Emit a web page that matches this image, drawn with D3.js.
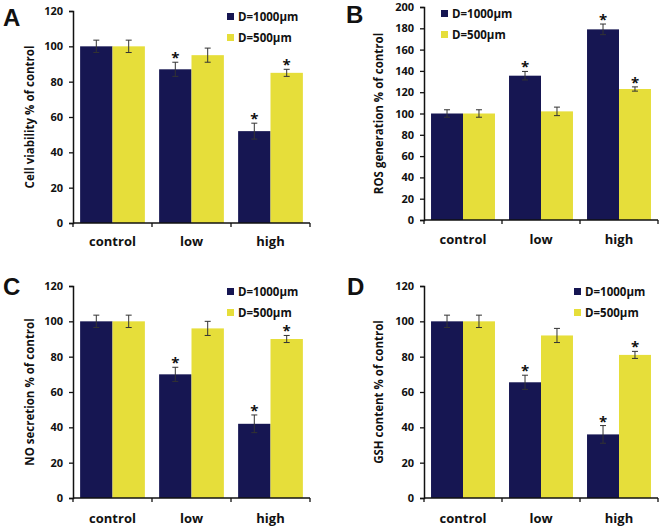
<!DOCTYPE html>
<html><head><meta charset="utf-8">
<script src="https://cdn.jsdelivr.net/npm/d3@7"></script>
<style>
body{margin:0;background:#fff;}
text{font-family:"Open Sans","Lato",sans-serif;font-weight:bold;fill:#111;}
</style></head><body>
<svg id="c" width="661" height="527"></svg>
<script>
const categories = ["control", "low", "high"];
const seriesNames = ["D=1000\u03bcm", "D=500\u03bcm"];
const colors = ["#161652", "#e6de3a"];

const viabilityD1000 = [100, 87, 52];
const viabilityD500 = [100, 95, 85];
const viabilityErr1000 = [3.5, 4, 4.5];
const viabilityErr500 = [3.5, 4, 2];

const rosD1000 = [100, 135.5, 179];
const rosD500 = [100, 102, 123];
const rosErr1000 = [3.5, 4, 5];
const rosErr500 = [3.5, 4, 2];

const noD1000 = [100, 70, 42];
const noD500 = [100, 96, 90];
const noErr1000 = [3.5, 4, 5];
const noErr500 = [3.5, 4, 2];

const gshD1000 = [100, 65.5, 36];
const gshD500 = [100, 92, 81];
const gshErr1000 = [3.5, 4, 5];
const gshErr500 = [3.5, 4, 2];

const sig1000 = [false, true, true];
const sigA500 = [false, false, true];
const sigB500 = [false, false, true];

const yTicksA = [0, 20, 40, 60, 80, 100, 120];
const yTicksB = [0, 20, 40, 60, 80, 100, 120, 140, 160, 180, 200];

const panels = [
  {letter:"A", lx:3, ly:26, ylabel:"Cell viability % of control", x0:73, x1:310, yTop:11, yBot:223, ymax:120, ticks:yTicksA,
   v:[viabilityD1000, viabilityD500], e:[viabilityErr1000, viabilityErr500], sig:[sig1000, sigA500],
   labX:34, legX:227, legY:17, xlabY:246},
  {letter:"B", lx:346, ly:23, ylabel:"ROS generation % of control", x0:424, x1:658, yTop:7, yBot:220, ymax:200, ticks:yTicksB,
   v:[rosD1000, rosD500], e:[rosErr1000, rosErr500], sig:[sig1000, sigB500],
   labX:383, legX:441, legY:14, xlabY:244},
  {letter:"C", lx:3, ly:295, ylabel:"NO secretion % of control", x0:73, x1:310, yTop:286, yBot:498, ymax:120, ticks:yTicksA,
   v:[noD1000, noD500], e:[noErr1000, noErr500], sig:[sig1000, sigA500],
   labX:34, legX:227, legY:292, xlabY:523},
  {letter:"D", lx:347, ly:295, ylabel:"GSH content % of control", x0:424, x1:658, yTop:286, yBot:498, ymax:120, ticks:yTicksA,
   v:[gshD1000, gshD500], e:[gshErr1000, gshErr500], sig:[sig1000, sigA500],
   labX:383, legX:574, legY:292, xlabY:523}
];

const svg = d3.select("#c");

panels.forEach(p => {
  const g = svg.append("g");
  const x = d3.scaleBand().domain(categories).range([p.x0, p.x1]).paddingInner(0).paddingOuter(0);
  const xs = d3.scaleBand().domain([0,1]).range([0, x.bandwidth()]).paddingInner(0).paddingOuter(0.22);
  const y = d3.scaleLinear().domain([0, p.ymax]).range([p.yBot, p.yTop]);

  // y axis
  const ya = g.append("g").attr("transform", `translate(${p.x0},0)`)
    .call(d3.axisLeft(y).tickValues(p.ticks).tickSize(4).tickPadding(6));
  ya.select(".domain").attr("stroke", "#111").attr("stroke-width", 1.5);
  ya.selectAll(".tick line").attr("stroke", "#111").attr("stroke-width", 1.3);
  ya.selectAll("text").style("font-size", "11px").attr("fill", "#111");

  // bars
  categories.forEach((c, ci) => {
    [0,1].forEach(si => {
      const val = p.v[si][ci], err = p.e[si][ci];
      const bx = x(c) + xs(si), bw = xs.bandwidth();
      g.append("rect").attr("x", bx).attr("y", y(val)).attr("width", bw).attr("height", y(0) - y(val))
        .attr("fill", colors[si]);
      const cx = bx + bw/2;
      const eg = g.append("g").attr("stroke", "#333").attr("stroke-width", 1);
      eg.append("line").attr("x1", cx).attr("x2", cx).attr("y1", y(val+err)).attr("y2", y(val-err));
      eg.append("line").attr("x1", cx-3).attr("x2", cx+3).attr("y1", y(val+err)).attr("y2", y(val+err));
      eg.append("line").attr("x1", cx-3).attr("x2", cx+3).attr("y1", y(val-err)).attr("y2", y(val-err));
      if (p.sig[si][ci]) {
        g.append("text").attr("x", cx).attr("y", y(val+err) + 1).attr("text-anchor", "middle")
          .style("font-size", "15px").style("font-weight", "bold").text("*");
      }
    });
  });

  // x axis
  g.append("line").attr("x1", p.x0).attr("x2", p.x1).attr("y1", p.yBot).attr("y2", p.yBot)
    .attr("stroke", "#111").attr("stroke-width", 1.5);
  const bounds = [p.x0, ...categories.slice(1).map(c => x(c)), p.x1];
  bounds.forEach(b => g.append("line").attr("x1", b).attr("x2", b).attr("y1", p.yBot).attr("y2", p.yBot + 4)
    .attr("stroke", "#111").attr("stroke-width", 1.3));
  categories.forEach(c => g.append("text").attr("x", x(c) + x.bandwidth()/2).attr("y", p.xlabY)
    .attr("text-anchor", "middle").style("font-size", "13px").text(c));

  // y label
  g.append("text").attr("transform", `translate(${p.labX},${(p.yTop + p.yBot)/2}) rotate(-90)`)
    .attr("text-anchor", "middle").style("font-size", "11.5px").text(p.ylabel);

  // panel letter
  g.append("text").attr("x", p.lx).attr("y", p.ly).style("font-size", "24px")
    .style("font-family", "'Liberation Sans', Arial, sans-serif").style("font-weight", "bold").text(p.letter);

  // legend
  seriesNames.forEach((s, si) => {
    const ly = p.legY + si * 21;
    g.append("rect").attr("x", p.legX).attr("y", ly - 4).attr("width", 7).attr("height", 7).attr("fill", colors[si]);
    g.append("text").attr("x", p.legX + 11).attr("y", ly + 4).style("font-size", "11.5px").text(s);
  });
});
</script></body></html>
